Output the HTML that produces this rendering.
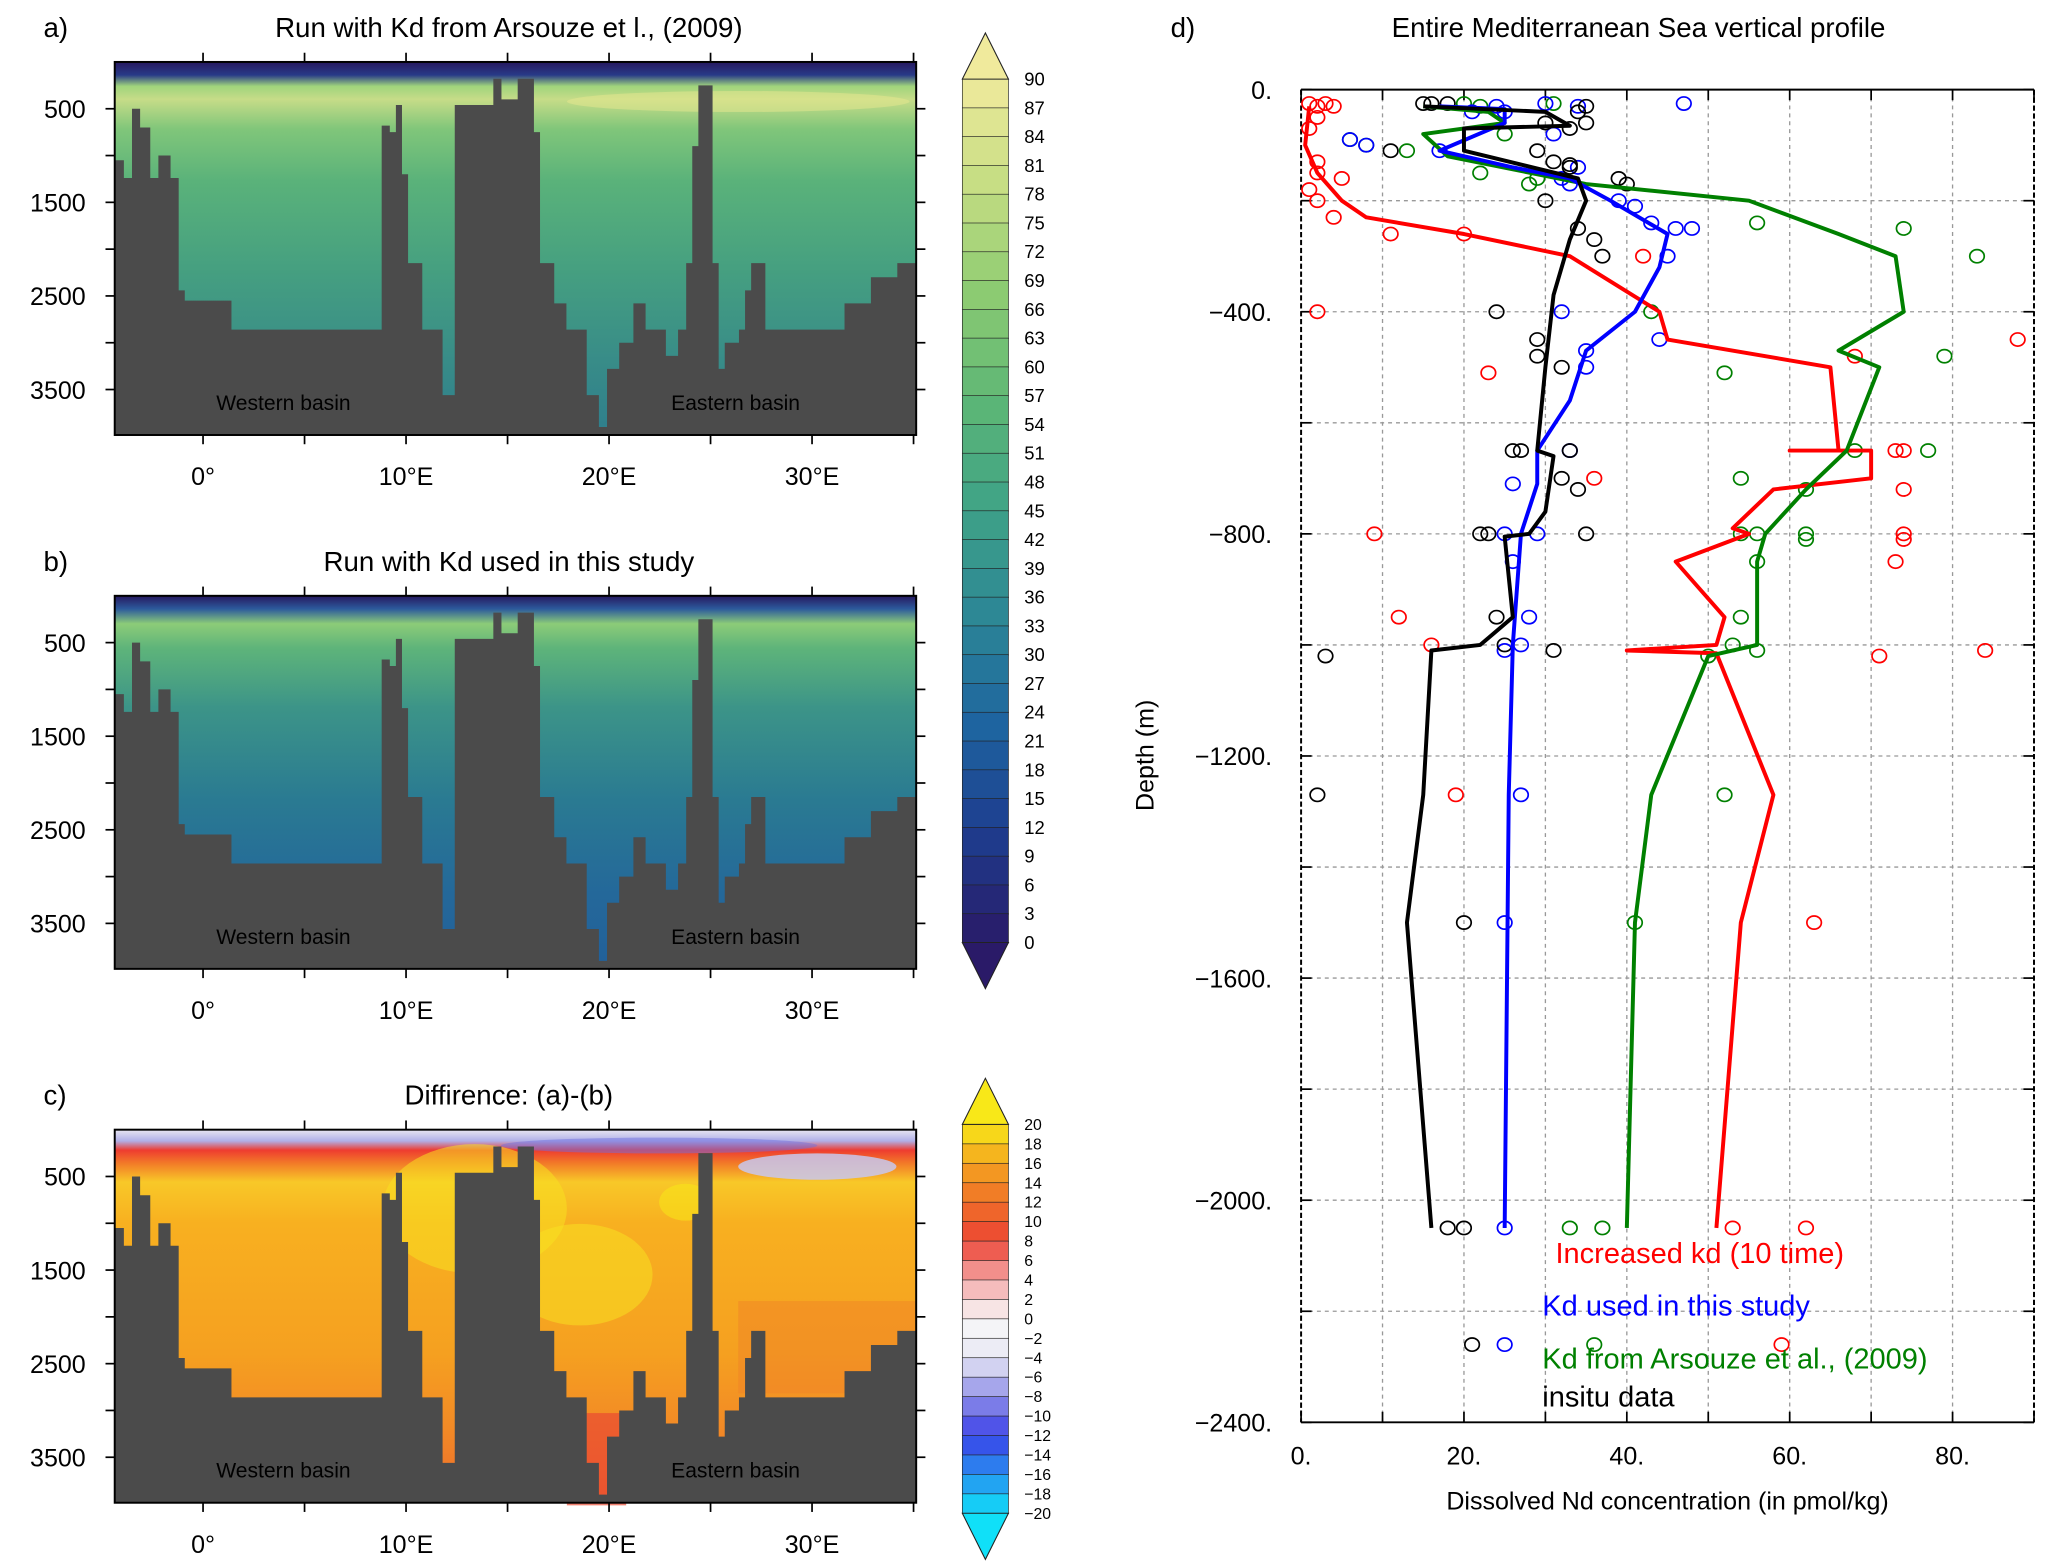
<!DOCTYPE html>
<html><head><meta charset="utf-8">
<style>
html,body{margin:0;padding:0;background:#fff;}
svg{display:block;font-family:"Liberation Sans","DejaVu Sans",sans-serif;}
</style></head>
<body>
<svg id="fig" width="2067" height="1566" viewBox="0 0 1568 1188" xmlns="http://www.w3.org/2000/svg">
<defs>
<linearGradient id="gA" x1="0" y1="0" x2="0" y2="1">
<stop offset="0" stop-color="#26185f"/><stop offset="0.035" stop-color="#283a88"/><stop offset="0.065" stop-color="#a0d47c"/><stop offset="0.1" stop-color="#c6dc88"/><stop offset="0.18" stop-color="#80c67a"/><stop offset="0.32" stop-color="#5ab27a"/><stop offset="0.55" stop-color="#46a080"/><stop offset="0.8" stop-color="#388c88"/><stop offset="1" stop-color="#2f7e8c"/>
</linearGradient>
<linearGradient id="gB" x1="0" y1="0" x2="0" y2="1">
<stop offset="0" stop-color="#26185f"/><stop offset="0.035" stop-color="#2c5a9c"/><stop offset="0.075" stop-color="#8ccc78"/><stop offset="0.14" stop-color="#5eb47a"/><stop offset="0.3" stop-color="#3c9488"/><stop offset="0.55" stop-color="#2a7a92"/><stop offset="0.8" stop-color="#24689a"/><stop offset="1" stop-color="#22609a"/>
</linearGradient>
<linearGradient id="gC" x1="0" y1="0" x2="0" y2="1">
<stop offset="0" stop-color="#e8e6f2"/><stop offset="0.03" stop-color="#b0b0e8"/><stop offset="0.055" stop-color="#ee3c30"/><stop offset="0.09" stop-color="#f27a28"/><stop offset="0.14" stop-color="#f8c828"/><stop offset="0.25" stop-color="#f8b020"/><stop offset="0.6" stop-color="#f5a020"/><stop offset="0.8" stop-color="#f28a26"/><stop offset="1" stop-color="#ee6a2c"/>
</linearGradient>
</defs>
</svg>
<script>
// ---- panel d data ----
const profBlackX=[15,30,33,20,20,27,34,35,33,31,30,29,31,30,28,25,26,22,16,15,13,16];
const profBlackY=[-30,-40,-65,-70,-110,-135,-160,-200,-270,-370,-500,-650,-660,-760,-800,-805,-950,-1000,-1010,-1270,-1500,-2050];
const profBlueX=[17,25,25,17,26,33,38,45,44,41,35,33,29,29,27,26,25.5,25];
const profBlueY=[-30,-35,-60,-110,-140,-160,-200,-260,-320,-400,-470,-560,-650,-710,-800,-1000,-1270,-2050];
const profGreenX=[15,23,25,15,18,35,55,66,73,74,66,71,67,62,57,56,56,50,43,41,40];
const profGreenY=[-30,-40,-60,-80,-120,-170,-200,-260,-300,-400,-470,-500,-650,-720,-800,-850,-1000,-1020,-1270,-1500,-2050];
const profRedX=[1,0.5,2,5,8,20,33,44,45,65,66,60,70,70,58,53,55,46,52,51,40,51,58,54,51];
const profRedY=[-30,-100,-150,-200,-230,-260,-300,-400,-450,-500,-650,-650,-650,-700,-720,-790,-800,-850,-950,-1000,-1010,-1015,-1270,-1500,-2050];
const obsBlackX=[15,16,18,35,34,35,30,33,11,29,31,33,33,39,40,30,34,36,37,24,29,29,32,27,26,33,32,34,22,23,35,24,25,31,3,2,20,18,20,21];
const obsBlackY=[-25,-25,-25,-30,-40,-60,-60,-70,-110,-110,-130,-135,-140,-160,-170,-200,-250,-270,-300,-400,-450,-480,-500,-650,-650,-650,-700,-720,-800,-800,-800,-950,-1000,-1010,-1020,-1270,-1500,-2050,-2050,-2260];
const obsBlueX=[47,30,34,24,21,25,6,8,17,31,34,32,33,39,41,43,46,48,45,32,44,35,35,33,26,25,29,26,28,27,25,27,25,25,25];
const obsBlueY=[-25,-25,-30,-30,-40,-40,-90,-100,-110,-80,-140,-160,-170,-200,-210,-240,-250,-250,-300,-400,-450,-470,-500,-650,-710,-800,-800,-850,-950,-1000,-1010,-1270,-1500,-2050,-2260];
const obsGreenX=[20,22,31,6,8,13,25,22,29,28,56,74,83,43,79,52,68,77,54,62,54,56,62,62,56,54,53,56,50,52,41,33,37,36];
const obsGreenY=[-25,-30,-25,-90,-100,-110,-80,-150,-160,-170,-240,-250,-300,-400,-480,-510,-650,-650,-700,-720,-800,-800,-800,-810,-850,-950,-1000,-1010,-1020,-1270,-1500,-2050,-2050,-2260];
const obsRedX=[1,2,3,4,2,1,2,2,5,1,2,4,11,20,42,2,23,68,74,73,36,74,9,74,74,73,12,16,71,84,88,19,63,53,62,59];
const obsRedY=[-25,-30,-25,-30,-50,-70,-130,-150,-160,-180,-200,-230,-260,-260,-300,-400,-510,-480,-650,-650,-700,-720,-800,-800,-810,-850,-950,-1000,-1020,-1010,-450,-1270,-1500,-2050,-2050,-2260];
const dXTicks=[0,20,40,60,80];
const dXTickLabels=["0.","20.","40.","60.","80."];
const dYTicks=[0,-400,-800,-1200,-1600,-2000,-2400];
const dYTickLabels=["0.","-400.","-800.","-1200.","-1600.","-2000.","-2400."];
// ---- sections ----
const bathyLon=[-4.35,-3.9,-3.5,-3.1,-2.6,-2.2,-1.6,-1.2,-0.9,1.4,8.2,8.8,9.2,9.5,9.8,10.1,10.8,11.8,12.3,12.4,13.4,14.3,14.7,15.5,16.3,16.6,17.3,17.9,18.9,19.5,19.9,20.5,21.2,21.8,22.8,23.4,23.8,24.1,24.4,25.1,25.4,25.7,26.4,26.7,27,27.7,30.9,31.6,32.9,34.2,35.2];
const bathyDepth=[1050,1240,500,700,1240,1000,1240,2440,2550,2860,2860,680,750,460,1200,2150,2860,3560,3560,460,460,180,400,180,750,2150,2580,2860,3560,3900,3280,3000,2580,2860,3140,2860,2150,900,250,2150,3280,3000,2860,2440,2150,2860,2860,2580,2300,2150,1950];
const lonTicks=[0,10,20,30];
const lonTickLabels=["0°","10°E","20°E","30°E"];
const depthTicks=[500,1500,2500,3500];
const cb1Labels=[90,87,84,81,78,75,72,69,66,63,60,57,54,51,48,45,42,39,36,33,30,27,24,21,18,15,12,9,6,3,0];
const cb2Labels=[20,18,16,14,12,10,8,6,4,2,0,-2,-4,-6,-8,-10,-12,-14,-16,-18,-20];

const NS="http://www.w3.org/2000/svg";
const svg=document.getElementById('fig');
function mk(tag,attrs,parent){const e=document.createElementNS(NS,tag);for(const k in attrs)e.setAttribute(k,attrs[k]);(parent||svg).appendChild(e);return e;}
function txt(s,x,y,size,color,anchor,parent){const t=mk('text',{x:x,y:y,'font-size':size,fill:color||'#000','text-anchor':anchor||'start'},parent);t.textContent=s;return t;}

// ---- left panels ----
const PL=87,PR=695,PH=283;
function lonX(l){return 154+(l)*15.4;}
function depY(top,d){return top+d*0.071;}
const panels=[{top:47,grad:'gA',lab:'a)',title:'Run with Kd from Arsouze et l., (2009)',name:'panel-a'},
{top:452,grad:'gB',lab:'b)',title:'Run with Kd used in this study',name:'panel-b'},
{top:857,grad:'gC',lab:'c)',title:'Diffirence: (a)-(b)',name:'panel-c'}];
panels.forEach((p,pi)=>{
  const g=mk('g',{});
  
  
  const f=mk('rect',{x:PL,y:p.top,width:PR-PL,height:PH,fill:'url(#'+p.grad+')'},g);
  
  
  if(pi===2){
    [[440,110,55,'#f8e020'],[360,60,70,'#f8e020'],[520,55,20,'#f8e818']].forEach(a=>{
      mk('ellipse',{cx:a[0],cy:p.top+a[1],rx:a[2],ry:a[2]*0.7,fill:a[3],opacity:0.55},g);});
    mk('rect',{x:430,y:p.top+215,width:45,height:70,fill:'#ea4a32',opacity:0.7},g);
    mk('rect',{x:560,y:p.top+130,width:135,height:70,fill:'#f08028',opacity:0.45},g);
    mk('ellipse',{cx:620,cy:p.top+28,rx:60,ry:10,fill:'#c8c8ee',opacity:0.85},g);
    mk('ellipse',{cx:500,cy:p.top+12,rx:120,ry:6,fill:'#7070e0',opacity:0.5},g);
  }
  if(pi===0){mk('ellipse',{cx:560,cy:p.top+30,rx:130,ry:8,fill:'#e8e890',opacity:0.5},g);}
  let pts=[PL+','+(p.top+PH)];
  for(let i=0;i<bathyLon.length;i++){
    const x=Math.max(PL,Math.min(PR,lonX(bathyLon[i])));
    const y=depY(p.top,bathyDepth[i]);
    const xn=i+1<bathyLon.length?Math.min(PR,lonX(bathyLon[i+1])):PR;
    pts.push(x+','+y); pts.push(xn+','+y);
  }
  pts.push(PR+','+(p.top+PH));
  const b=mk('polygon',{points:pts.join(' '),fill:'#4b4b4b'},g);
  
  
  mk('rect',{x:PL,y:p.top,width:PR-PL,height:PH,fill:'none',stroke:'#000','stroke-width':1.5},g);
  for(let l=-5;l<=35;l+=5){const x=lonX(l);if(x<PL||x>PR)continue;
    mk('line',{x1:x,y1:p.top-7,x2:x,y2:p.top,stroke:'#000','stroke-width':1.3},g);
    mk('line',{x1:x,y1:p.top+PH,x2:x,y2:p.top+PH+7,stroke:'#000','stroke-width':1.3},g);}
  lonTicks.forEach((l,i)=>{txt(lonTickLabels[i],lonX(l),p.top+PH+38,19,'#000','middle',g);});
  for(let d=500;d<=3500;d+=500){const y=depY(p.top,d);
    mk('line',{x1:PL-7,y1:y,x2:PL,y2:y,stroke:'#000','stroke-width':1.3},g);
    mk('line',{x1:PR,y1:y,x2:PR+7,y2:y,stroke:'#000','stroke-width':1.3},g);}
  depthTicks.forEach(d=>{txt(String(d),65,depY(p.top,d)+7,19,'#000','end',g);});
  txt('Western basin',215,p.top+264,16,'#000','middle',g);
  txt('Eastern basin',558,p.top+264,16,'#000','middle',g);
  txt(p.lab,33,p.top-19,21,'#000','start',g);
  txt(p.title,386,p.top-19,21,'#000','middle',g);
});

// ---- colorbars ----
function lerpPal(pal,t){t=Math.max(0,Math.min(1,t));const n=pal.length-1;const i=Math.min(n-1,Math.floor(t*n));const f=t*n-i;
  const a=pal[i],b=pal[i+1];const h=s=>[parseInt(s.substr(1,2),16),parseInt(s.substr(3,2),16),parseInt(s.substr(5,2),16)];
  const A=h(a),B=h(b);return 'rgb('+A.map((v,k)=>Math.round(v+(B[k]-v)*f)).join(',')+')';}
const pal1=['#2a1a68','#1e3c8e','#1e64a0','#2c8696','#3ea287','#5cb676','#8ccb72','#c4dd82','#f0ea9c'];
const pal2=['#10e0f8','#2890f0','#3a40e8','#9090e8','#e8e8f4','#f8f8f8','#f4a8a8','#ec4434','#f07028','#f4a420','#f8e818'];
function colorbar(x0,yTop,yBot,labels,pal,name,fs){
  const g=mk('g',{});
  
  
  const n=labels.length-1,h=(yBot-yTop)/n,w=35;
  for(let i=0;i<n;i++){const t=1-(i+0.5)/n;
    mk('rect',{x:x0,y:yTop+i*h,width:w,height:h+0.3,fill:lerpPal(pal,t),stroke:'#222','stroke-width':0.5},g);}
  mk('polygon',{points:`${x0},${yTop} ${x0+w},${yTop} ${x0+w/2},${yTop-35}`,fill:lerpPal(pal,1),stroke:'#222','stroke-width':0.8},g);
  mk('polygon',{points:`${x0},${yBot} ${x0+w},${yBot} ${x0+w/2},${yBot+35}`,fill:lerpPal(pal,0),stroke:'#222','stroke-width':0.8},g);
  labels.forEach((v,i)=>{txt(String(v).replace('-','\u2212'),x0+47,yTop+i*h+fs*0.35,fs,'#000','start',g);});
}
colorbar(730,60,715,cb1Labels,pal1,'colorbar-nd',14);
colorbar(730,853,1148,cb2Labels,pal2,'colorbar-difference',12);

// ---- panel d ----
const DX0=987,DX1=1543,DY0=68,DY1=1079;
function xs(v){return DX0+(v/90)*(DX1-DX0);}
function ys(v){return DY0+(-v/2400)*(DY1-DY0);}
const gd=mk('g',{});


for(let v=10;v<90;v+=10){mk('line',{x1:xs(v),y1:DY0,x2:xs(v),y2:DY1,stroke:'#999','stroke-width':1,'stroke-dasharray':'3,3'},gd);}
for(let v=-200;v>-2400;v-=200){mk('line',{x1:DX0,y1:ys(v),x2:DX1,y2:ys(v),stroke:'#999','stroke-width':1,'stroke-dasharray':'3,3'},gd);}
mk('line',{x1:DX0,y1:DY0,x2:DX1,y2:DY0,stroke:'#000','stroke-width':1.5},gd);
mk('line',{x1:DX0,y1:DY1,x2:DX1,y2:DY1,stroke:'#000','stroke-width':1.5},gd);
mk('line',{x1:DX0,y1:DY0,x2:DX0,y2:DY1,stroke:'#000','stroke-width':1.5,'stroke-dasharray':'4,2'},gd);
mk('line',{x1:DX1,y1:DY0,x2:DX1,y2:DY1,stroke:'#000','stroke-width':1.5,'stroke-dasharray':'4,2'},gd);
for(let v=0;v<=90;v+=10){mk('line',{x1:xs(v),y1:DY0,x2:xs(v),y2:DY0+8,stroke:'#000','stroke-width':1.3},gd);
  mk('line',{x1:xs(v),y1:DY1-8,x2:xs(v),y2:DY1,stroke:'#000','stroke-width':1.3},gd);}
for(let v=0;v>=-2400;v-=200){mk('line',{x1:DX0,y1:ys(v),x2:DX0+8,y2:ys(v),stroke:'#000','stroke-width':1.3},gd);
  mk('line',{x1:DX1-8,y1:ys(v),x2:DX1,y2:ys(v),stroke:'#000','stroke-width':1.3},gd);}
dXTicks.forEach((v,i)=>txt(dXTickLabels[i],xs(v),DY1+32,19,'#000','middle',gd));
dYTicks.forEach((v,i)=>txt(dYTickLabels[i].replace('-','\u2212'),965,ys(v)+7,19,'#000','end',gd));
txt('Dissolved Nd concentration (in pmol/kg)',1265,1145,19,'#000','middle',gd);
const yl=txt('Depth (m)',0,0,19,'#000','middle',gd);
yl.setAttribute('transform','translate(875,573) rotate(-90)');
txt('d)',888,28,21,'#000','start',gd);
txt('Entire Mediterranean Sea vertical profile',1243,28,21,'#000','middle',gd);
function series(X,Y,color,name){
  const pts=X.map((v,i)=>xs(v)+','+ys(Y[i])).join(' ');
  const l=mk('polyline',{points:pts,fill:'none',stroke:color,'stroke-width':3,'stroke-linejoin':'round'},gd);
  
  
}
function scatter(X,Y,color,name){
  const g=mk('g',{},gd);
  
  
  X.forEach((v,i)=>{mk('ellipse',{cx:xs(v),cy:ys(Y[i]),rx:5.5,ry:5,fill:'none',stroke:color,'stroke-width':1.3},g);});
}
scatter(obsRedX,obsRedY,'#ff0000','obs-red');
scatter(obsGreenX,obsGreenY,'#008000','obs-green');
scatter(obsBlueX,obsBlueY,'#0000ff','obs-blue');
scatter(obsBlackX,obsBlackY,'#000000','obs-insitu');
series(profRedX,profRedY,'#ff0000','line-increased-kd');
series(profGreenX,profGreenY,'#008000','line-arsouze');
series(profBlueX,profBlueY,'#0000ff','line-this-study');
series(profBlackX,profBlackY,'#000000','line-insitu');
const lg=mk('g',{},gd);


txt('Increased kd (10 time)',1180,958,22,'#ff0000','start',lg);
txt('Kd used in this study',1170,998,22,'#0000ff','start',lg);
txt('Kd from Arsouze et al., (2009)',1170,1038,22,'#008000','start',lg);
txt('insitu data',1170,1067,22,'#000000','start',lg);
</script>
</body></html>
